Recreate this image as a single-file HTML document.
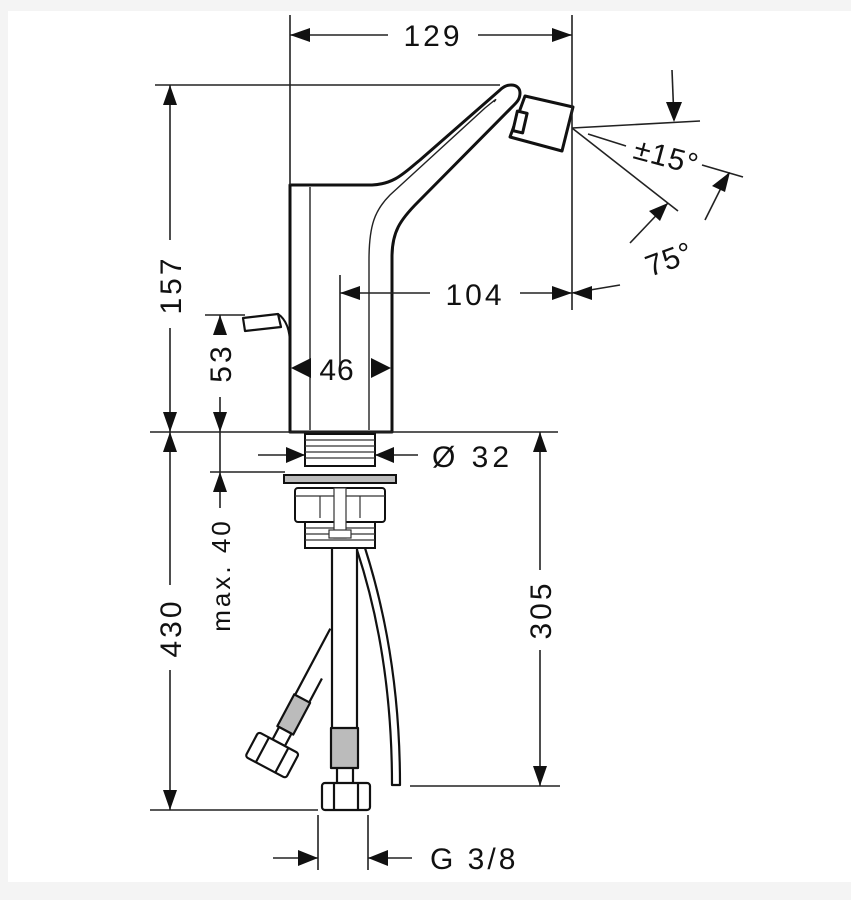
<!DOCTYPE html>
<html><head><meta charset="utf-8"><style>
html,body{margin:0;padding:0;background:#f4f4f4;}
svg{display:block;}
text{font-family:"Liberation Sans",sans-serif;font-size:30px;fill:#111;}
</style></head><body>
<svg width="851" height="900" viewBox="0 0 851 900" xmlns="http://www.w3.org/2000/svg">
<rect x="0" y="0" width="851" height="900" fill="#f4f4f4"/>
<rect x="8" y="11" width="843" height="871" fill="#fff"/>
<!-- faucet body -->
<g stroke="#111" stroke-width="3" fill="#fff" stroke-linejoin="round">
<path d="M290,432 L290,185 L372,185 C395,184 405,172 420,160 L500,90 C508,82 520,84 520,93 C520,99 517,102 514,105 L418,202 C400,220 392,232 392,257 L392,432 Z"/>
<polygon points="525,96 573,107 562,151 510,137"/>
<rect x="515" y="112" width="10" height="20" transform="rotate(13 520 122)"/>
<path d="M243,318 L278,314 L281,327 L245,331 Z" stroke-width="2.2"/>
<path d="M278,314 Q290,322 290,345" stroke-width="2" fill="none"/>
</g>
<g stroke="#222" stroke-width="1.4" fill="none">
<line x1="310" y1="187" x2="310" y2="430"/>
<path d="M369,430 L369,260 C369,225 375,210 390,195 L485,108 C495,100 498,97 494,102"/>
</g>
<g stroke="#222" stroke-width="1.6" fill="none">
<line x1="290" y1="15" x2="290" y2="185"/>
<line x1="572" y1="15" x2="572" y2="310"/>
<line x1="155" y1="85" x2="500" y2="85"/>
<line x1="150" y1="432" x2="558" y2="432"/>
<line x1="205" y1="315" x2="245" y2="315"/>
<line x1="210" y1="472" x2="285" y2="472"/>
<line x1="150" y1="810" x2="318" y2="810"/>
<line x1="410" y1="786" x2="560" y2="786"/>
<line x1="340" y1="275" x2="340" y2="375"/>
<line x1="290" y1="35" x2="388" y2="35"/><line x1="478" y1="35" x2="572" y2="35"/>
<line x1="170" y1="85" x2="170" y2="240"/><line x1="170" y1="328" x2="170" y2="432"/>
<line x1="220" y1="315" x2="220" y2="330"/><line x1="220" y1="397" x2="220" y2="432"/>
<line x1="170" y1="432" x2="170" y2="585"/><line x1="170" y1="670" x2="170" y2="810"/>
<line x1="220" y1="432" x2="220" y2="472"/><line x1="220" y1="472" x2="220" y2="508"/>
<line x1="340" y1="293" x2="430" y2="293"/><line x1="520" y1="293" x2="572" y2="293"/><line x1="572" y1="293" x2="620" y2="285"/>
<line x1="540" y1="432" x2="540" y2="570"/><line x1="540" y1="650" x2="540" y2="786"/>
<line x1="258" y1="455" x2="305" y2="455"/><line x1="375" y1="455" x2="418" y2="455"/>
<line x1="318" y1="815" x2="318" y2="870"/><line x1="368" y1="815" x2="368" y2="870"/>
<line x1="273" y1="858" x2="318" y2="858"/><line x1="368" y1="858" x2="412" y2="858"/>
<line x1="572" y1="128" x2="700" y2="121"/>
<line x1="572" y1="128" x2="678" y2="211"/>
<line x1="588" y1="134" x2="626" y2="146"/>
<line x1="702" y1="165" x2="743" y2="177"/>
<line x1="672" y1="70" x2="674" y2="120"/>
<line x1="630" y1="243" x2="668" y2="203"/>
<line x1="705" y1="220" x2="728" y2="174"/>
</g>
<g fill="#111">
<polygon points="290,35 310,28 310,42"/><polygon points="572,35 552,28 552,42"/>
<polygon points="170,85 163,105 177,105"/><polygon points="170,432 163,412 177,412"/>
<polygon points="170,432 163,452 177,452"/><polygon points="170,810 163,790 177,790"/>
<polygon points="220,315 213,335 227,335"/><polygon points="220,432 213,412 227,412"/>
<polygon points="220,472 213,492 227,492"/>
<polygon points="340,293 360,286 360,300"/><polygon points="572,293 552,286 552,300"/><polygon points="572,293 592,286 592,300"/>
<polygon points="291,368 311,358 311,378"/><polygon points="391,368 371,358 371,378"/>
<polygon points="540,432 533,452 547,452"/><polygon points="540,786 533,766 547,766"/>
<polygon points="305,455 286,447 286,463"/><polygon points="375,455 394,447 394,463"/>
<polygon points="318,858 298,850 298,866"/><polygon points="368,858 388,850 388,866"/>
<polygon points="674,122 666,102 682,102"/>
<polygon points="668,203 649,211 660,221"/>
<polygon points="730,172 712,186 725,192"/>
</g>
<!-- threads and nut -->
<g stroke="#111" stroke-width="2" fill="#fff">
<rect x="305" y="434" width="70" height="32"/>
<rect x="284" y="475" width="112" height="8" fill="#bbb"/>
<rect x="295" y="488" width="90" height="34" rx="3"/>
<rect x="305" y="522" width="70" height="26"/>
</g>
<g stroke="#333" stroke-width="1.2">
<line x1="305" y1="440" x2="375" y2="440"/><line x1="305" y1="446" x2="375" y2="446"/><line x1="305" y1="452" x2="375" y2="452"/><line x1="305" y1="458" x2="375" y2="458"/>
<line x1="305" y1="528" x2="375" y2="528"/><line x1="305" y1="534" x2="375" y2="534"/><line x1="305" y1="540" x2="375" y2="540"/>
<line x1="295" y1="496" x2="385" y2="496"/><line x1="320" y1="496" x2="320" y2="518"/><line x1="360" y1="496" x2="360" y2="518"/>
<rect x="334" y="488" width="12" height="50" fill="#fff"/>
<rect x="329" y="530" width="22" height="8" fill="#fff"/>
</g>
<!-- angled hose -->
<g transform="translate(328,650) rotate(28)" stroke="#111" stroke-width="2.2" fill="#fff" stroke-linejoin="round">
<line x1="-8" y1="-20" x2="-8" y2="55"/><line x1="8" y1="28" x2="8" y2="55"/>
<rect x="-9" y="55" width="18" height="36" fill="#bbb"/>
<rect x="-7" y="91" width="14" height="14"/>
<rect x="-23" y="105" width="46" height="28" rx="3"/>
<line x1="-11" y1="105" x2="-11" y2="133"/><line x1="11" y1="105" x2="11" y2="133"/>
</g>
<!-- pipes -->
<g stroke="#111" stroke-width="2.2" fill="none" stroke-linejoin="round">
<line x1="332" y1="548" x2="332" y2="728"/><line x1="357" y1="548" x2="357" y2="728"/>
<path d="M357,550 C380,620 392,700 392,785 L400,785 C400,700 388,620 365,548"/>
<rect x="331" y="728" width="27" height="40" fill="#bbb"/>
<rect x="322" y="783" width="48" height="27" rx="3" fill="#fff"/>
<line x1="334" y1="783" x2="334" y2="810"/><line x1="358" y1="783" x2="358" y2="810"/>
<line x1="337" y1="768" x2="337" y2="783"/><line x1="353" y1="768" x2="353" y2="783"/>
</g>
<!-- labels -->
<text x="433" y="46" text-anchor="middle" letter-spacing="3">129</text>
<text x="475" y="305" text-anchor="middle" letter-spacing="3">104</text>
<text x="337" y="380" text-anchor="middle" letter-spacing="1">46</text>
<text x="432" y="467" letter-spacing="4">Ø 32</text>
<text x="430" y="869" letter-spacing="3">G 3/8</text>
<text transform="translate(181,285) rotate(-90)" text-anchor="middle" letter-spacing="3">157</text>
<text transform="translate(231,363) rotate(-90)" text-anchor="middle" letter-spacing="3">53</text>
<text transform="translate(181,628) rotate(-90)" text-anchor="middle" letter-spacing="3">430</text>
<text transform="translate(230,575) rotate(-90)" text-anchor="middle" letter-spacing="3" style="font-size:26px">max. 40</text>
<text transform="translate(551,610) rotate(-90)" text-anchor="middle" letter-spacing="3">305</text>
<text transform="translate(632,158) rotate(15)" letter-spacing="1">±15°</text>
<text transform="translate(650,277) rotate(-20)" letter-spacing="1">75°</text>
</svg>
</body></html>
